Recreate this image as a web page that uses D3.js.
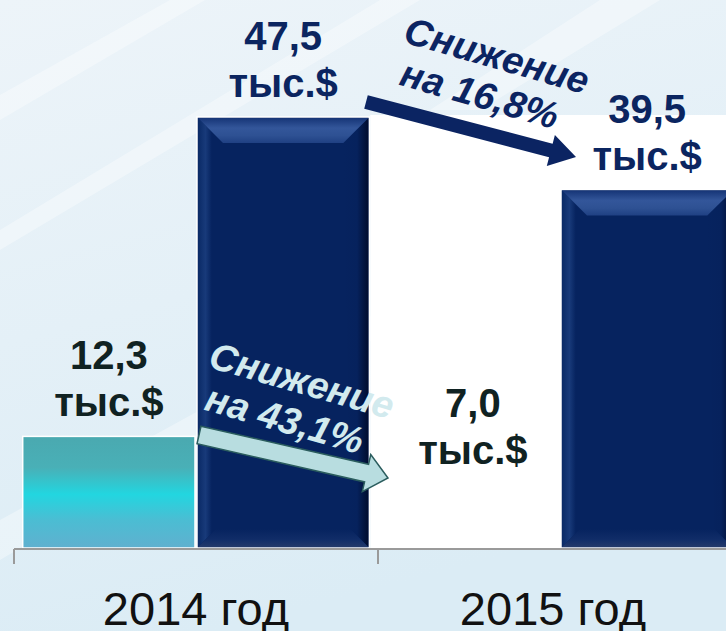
<!DOCTYPE html>
<html>
<head>
<meta charset="utf-8">
<script src="https://cdn.jsdelivr.net/npm/d3@7"></script>
<style>
  html, body { margin: 0; padding: 0; background: #e6f0f7; }
  svg { display: block; font-family: "Liberation Sans", Arial, sans-serif; }
</style>
</head>
<body>
<svg id="chart" width="726" height="631"></svg>
<script>
// data
var years = ["2014 год", "2015 год"];
var series = ["teal", "navy"];
var tealValues = [12.3, 7.0];
var navyValues = [47.5, 39.5];
var tealLabels = ["12,3", "7,0"];
var navyLabels = ["47,5", "39,5"];
var unitLabel = "тыс.$";
var dropLabels = [["Снижение", "на 43,1%"], ["Снижение", "на 16,8%"]];

var W = 726, H = 631;
var baseY = 548;

var svg = d3.select("#chart");
var defs = svg.append("defs");

// background
var bg = defs.append("linearGradient").attr("id", "bg")
    .attr("x1", 0).attr("y1", 0).attr("x2", 0.3).attr("y2", 1);
bg.append("stop").attr("offset", "0%").attr("stop-color", "#edf4f9");
bg.append("stop").attr("offset", "100%").attr("stop-color", "#dbecf5");
svg.append("rect").attr("width", W).attr("height", H).attr("fill", "url(#bg)");

// soft diagonal streaks
var streaks = [
    [[0, 250], [0, 230], [380, 0], [420, 0]],
    [[0, 120], [0, 95], [170, 0], [205, 0]],
    [[0, 560], [0, 520], [400, 300], [440, 300]],
    [[430, 110], [600, 0], [660, 0], [480, 110]]
];
svg.selectAll("polygon.streak").data(streaks).enter().append("polygon")
    .attr("class", "streak")
    .attr("points", function (d) { return d.join(" "); })
    .attr("fill", "#ffffff").attr("opacity", 0.35);

// scales
var y = d3.scaleLinear().domain([0, 47.5]).range([baseY, 117]);
var x0 = d3.scaleBand().domain(years).range([14, 742]);
var x1 = d3.scaleBand().domain(series).range([0, x0.bandwidth()])
    .paddingInner(0.0115).paddingOuter(0.05);
var bw = x1.bandwidth();

// white panel behind 2015 group
var panelX = x0(years[0]) + x1("navy") + bw + 1;
svg.append("rect")
    .attr("x", panelX).attr("y", 115)
    .attr("width", W - panelX).attr("height", baseY - 115)
    .attr("fill", "#ffffff");

// gradients for bars
var tg = defs.append("linearGradient").attr("id", "tealGrad")
    .attr("x1", 0).attr("y1", 0).attr("x2", 0).attr("y2", 1);
[["0%", "#4aa9b0"], ["28%", "#49b0b7"], ["52%", "#22d6e0"], ["75%", "#4bbdd3"], ["100%", "#60b0cf"]]
    .forEach(function (s) { tg.append("stop").attr("offset", s[0]).attr("stop-color", s[1]); });

function grad(id, horiz, stops) {
    var g = defs.append("linearGradient").attr("id", id)
        .attr("x1", 0).attr("y1", 0).attr("x2", horiz ? 1 : 0).attr("y2", horiz ? 0 : 1);
    stops.forEach(function (s) { g.append("stop").attr("offset", s[0]).attr("stop-color", s[1]); });
}
grad("bevTop", false, [["0%", "#163577"], ["40%", "#33569a"], ["70%", "#2e5193"], ["100%", "#1f4083"]]);
grad("bevRight", true, [["0%", "#06235f"], ["55%", "#06225d"], ["100%", "#000c2e"]]);
grad("bevLeft", true, [["0%", "#0a2a66"], ["30%", "#183a7a"], ["55%", "#06235f"], ["100%", "#06235f"]]);
grad("bevBot", false, [["0%", "#06235f"], ["60%", "#112d68"], ["100%", "#23396b"]]);

var rows = years.map(function (yr, i) {
    return { year: yr, teal: tealValues[i], navy: navyValues[i], tl: tealLabels[i], nl: navyLabels[i] };
});

// teal bars (2015 one is white on the white panel)
svg.selectAll("rect.teal").data(rows).enter().append("rect")
    .attr("class", "teal")
    .attr("x", function (d) { return x0(d.year) + x1("teal"); })
    .attr("y", function (d) { return y(d.teal); })
    .attr("width", bw)
    .attr("height", function (d) { return baseY - y(d.teal); })
    .attr("fill", function (d, i) { return i === 0 ? "url(#tealGrad)" : "#ffffff"; })
    .attr("stroke", "#ffffff").attr("stroke-width", 1.5);

// navy bars with bevel
var bev = 25, bevB = 18;
var navyG = svg.selectAll("g.navy").data(rows).enter().append("g").attr("class", "navy");
navyG.append("rect")
    .attr("x", function (d) { return x0(d.year) + x1("navy"); })
    .attr("y", function (d) { return y(d.navy); })
    .attr("width", bw)
    .attr("height", function (d) { return baseY - y(d.navy); })
    .attr("fill", "#06235f")
    .attr("stroke", "#ffffff").attr("stroke-width", 1.5);
navyG.each(function (d) {
    var g = d3.select(this);
    var l = x0(d.year) + x1("navy") + 1, r = l + bw - 2, t = y(d.navy) + 1, b = baseY - 1;
    g.append("polygon").attr("points", [[r, t], [r, b], [r - bevB, b - bevB], [r - bev, t + bev]].join(" "))
        .attr("fill", "url(#bevRight)");
    g.append("polygon").attr("points", [[l, t], [l + bev, t + bev], [l + bevB, b - bevB], [l, b]].join(" "))
        .attr("fill", "url(#bevLeft)");
    g.append("polygon").attr("points", [[l, b], [l + bevB, b - bevB], [r - bevB, b - bevB], [r, b]].join(" "))
        .attr("fill", "url(#bevBot)");
    g.append("polygon").attr("points", [[l, t], [r, t], [r - bev, t + bev], [l + bev, t + bev]].join(" "))
        .attr("fill", "url(#bevTop)");
});

// value labels
function addLabel(cx, topY, txt, color) {
    var t = svg.append("text").attr("text-anchor", "middle")
        .attr("font-weight", "bold").attr("font-size", 40).attr("fill", color);
    t.append("tspan").attr("x", cx).attr("y", topY - 67).text(txt);
    t.append("tspan").attr("x", cx).attr("y", topY - 20).text(unitLabel);
}
rows.forEach(function (d) {
    addLabel(x0(d.year) + x1("teal") + bw / 2, y(d.teal), d.tl, "#102222");
    addLabel(x0(d.year) + x1("navy") + bw / 2, y(d.navy), d.nl, "#0b2560");
});

// axis
svg.append("line").attr("x1", 14).attr("x2", W).attr("y1", baseY + 1).attr("y2", baseY + 1)
    .attr("stroke", "#9a9a9a").attr("stroke-width", 2);
svg.selectAll("line.tick").data(years).enter().append("line").attr("class", "tick")
    .attr("x1", function (d) { return x0(d); }).attr("x2", function (d) { return x0(d); })
    .attr("y1", baseY + 1).attr("y2", baseY + 16)
    .attr("stroke", "#9a9a9a").attr("stroke-width", 2);
svg.selectAll("text.cat").data(years).enter().append("text").attr("class", "cat")
    .attr("x", function (d, i) { return x0(d) + x0.bandwidth() / 2 - (i === 1 ? 7 : 0); })
    .attr("y", 625)
    .attr("text-anchor", "middle").attr("font-size", 47).attr("fill", "#111111")
    .text(function (d) { return d; });

// arrows
function arrow(x1a, y1a, x2a, y2a, shaft, head, headLen, fill, stroke) {
    var ang = Math.atan2(y2a - y1a, x2a - x1a) * 180 / Math.PI;
    var len = Math.hypot(x2a - x1a, y2a - y1a);
    var pts = [[0, -shaft / 2], [len - headLen, -shaft / 2], [len - headLen, -head / 2], [len, 0],
        [len - headLen, head / 2], [len - headLen, shaft / 2], [0, shaft / 2]];
    svg.append("polygon")
        .attr("transform", "translate(" + x1a + "," + y1a + ") rotate(" + ang + ")")
        .attr("points", pts.join(" "))
        .attr("fill", fill).attr("stroke", stroke || "none").attr("stroke-width", 1.5);
}
arrow(199, 435, 388, 478, 18, 38, 22, "#b8dde0", "#2b5d5e");
arrow(366, 102, 576, 157, 14, 32, 26, "#0b2462");

// drop annotations
function dropText(px, py, lines, color) {
    var g = svg.append("g").attr("transform", "translate(" + px + "," + py + ") rotate(16)");
    var t = g.append("text").attr("font-weight", "bold").attr("font-style", "italic")
        .attr("font-size", 38).attr("fill", color);
    t.append("tspan").attr("x", 0).attr("y", 0).text(lines[0]);
    t.append("tspan").attr("x", 8).attr("y", 42).text(lines[1]);
}
dropText(207, 367, dropLabels[0], "#d2eaee");
dropText(402, 42, dropLabels[1], "#0b2462");
</script>
</body>
</html>
